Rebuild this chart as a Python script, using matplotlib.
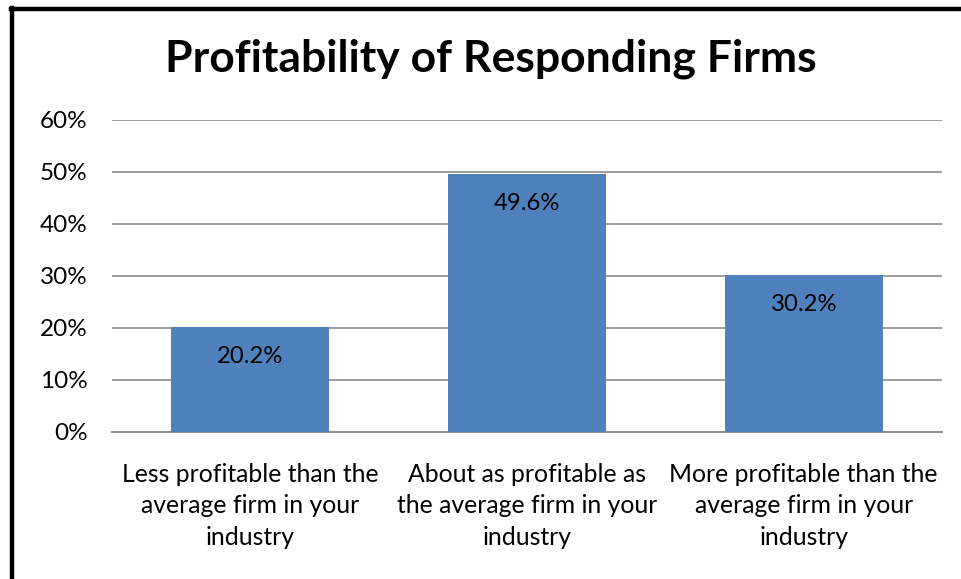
import matplotlib
matplotlib.use("Agg")
import matplotlib.pyplot as plt
from matplotlib.lines import Line2D

categories = ["Less profitable than the\naverage firm in your\nindustry",
              "About as profitable as\nthe average firm in your\nindustry",
              "More profitable than the\naverage firm in your\nindustry"]
values = [20.2, 49.6, 30.2]
yticks = [0, 10, 20, 30, 40, 50, 60]
ytick_labels = ["0%", "10%", "20%", "30%", "40%", "50%", "60%"]
title = "Profitability of Responding Firms"

plt.rcParams['font.family'] = ['Lato', 'DejaVu Sans']

W, H = 961, 579
fig = plt.figure(figsize=(W / 100, H / 100), dpi=100)
fig.patch.set_facecolor("white")

# axes region in pixels
x0, x1 = 112, 942
y_top, y_bot = 120, 432
ax = fig.add_axes([x0 / W, 1 - y_bot / H, (x1 - x0) / W, (y_bot - y_top) / H])
ax.set_xlim(-0.5, 2.5)
ax.set_ylim(0, 60)

x = list(range(len(categories)))
ax.bar(x, values, width=0.57, color="#4F81BD", zorder=3)
for xi, v in zip(x, values):
    ax.annotate(f"{v:.1f}%", (xi, v), xytext=(0, -21.5), textcoords="offset points",
                ha="center", va="center", fontsize=17.2, color="black", zorder=4)

ax.set_yticks(yticks)
ax.set_yticklabels(ytick_labels, fontsize=17.5)
ax.set_xticks(x)
ax.set_xticklabels(categories, fontsize=17.8, linespacing=1.47)
ax.tick_params(axis="both", length=0)
ax.tick_params(axis="y", pad=17.5)
ax.tick_params(axis="x", pad=22)
ax.yaxis.grid(True, color="#8c8c8c", linewidth=1.2, zorder=0)
for s in ["top", "right", "left"]:
    ax.spines[s].set_visible(False)
ax.spines["bottom"].set_color("#8c8c8c")
ax.spines["bottom"].set_linewidth(1.5)

fig.text(491 / W, 1 - 59 / H, title, ha="center", va="center",
         fontsize=32, fontweight="bold")

# chart border (left and top)
fig.add_artist(Line2D([12 / W, 12 / W], [0, 1 - 8 / H], transform=fig.transFigure,
                      color="black", linewidth=3.2))
fig.add_artist(Line2D([10.5 / W, 1], [1 - 8.5 / H, 1 - 8.5 / H], transform=fig.transFigure,
                      color="black", linewidth=3.2))

fig.savefig("out.png", dpi=100)
